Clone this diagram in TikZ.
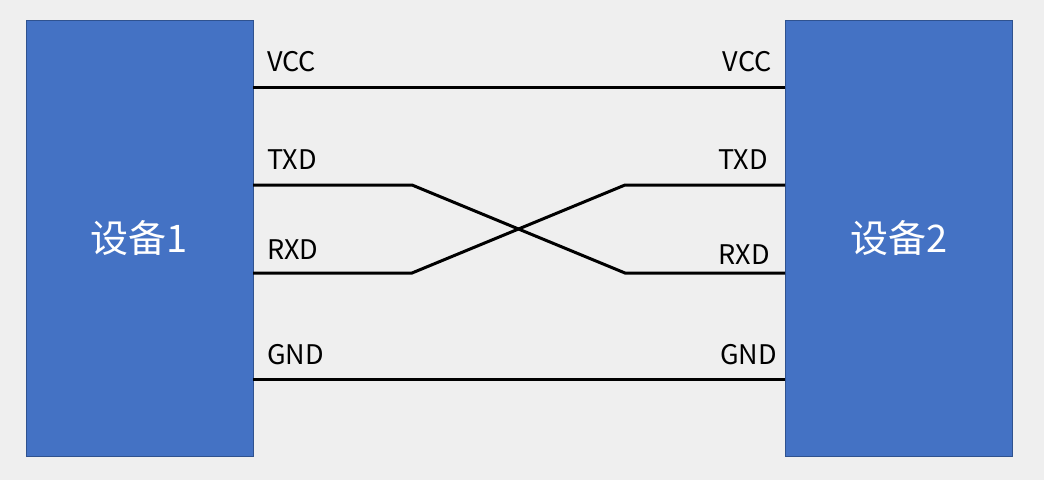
\documentclass[tikz,border=0pt]{standalone}
\usepackage{fontspec}
\setmainfont{Noto Sans CJK SC}
\begin{document}
\begin{tikzpicture}[x=1pt,y=-1pt,
  dev/.style={fill=boxblue,draw=boxedge,line width=1pt,minimum width=227pt,minimum height=436pt,text=white,font=\fontsize{38}{42}\selectfont,inner sep=0},
  lbl/.style={font=\fontsize{27}{30}\selectfont,inner sep=0},
  wire/.style={line width=3pt,black}]
\definecolor{boxblue}{HTML}{4472C4}
\definecolor{boxedge}{HTML}{2F528F}
\fill[fill={rgb,255:red,239;green,239;blue,239}] (0,0) rectangle (1044,480);
\useasboundingbox (0,0) rectangle (1044,480);
\node[dev] (d1) at (139.5,238) {设备1};
\node[dev] (d2) at (899,238) {设备2};
\coordinate (lv) at (253,87); \coordinate (rv) at (785,87);
\coordinate (lt) at (253,185); \coordinate (rt) at (785,185);
\coordinate (lr) at (253,273); \coordinate (rr) at (785,273);
\coordinate (lg) at (253,379); \coordinate (rg) at (785,379);
\coordinate (a1) at (412,185); \coordinate (a2) at (412,273);
\coordinate (b1) at (625,185); \coordinate (b2) at (625,273);
\draw[wire] (lv) -- (rv);
\draw[wire] (lg) -- (rg);
\draw[wire] (lt) -- (a1) -- (b2) -- (rr);
\draw[wire] (lr) -- (a2) -- (b1) -- (rt);
\node[lbl,anchor=west] (l1) at (267,62) {VCC};
\node[lbl,anchor=west] (l2) at (267,160) {TXD};
\node[lbl,anchor=west] (l3) at (267,250) {RXD};
\node[lbl,anchor=west] (l4) at (267,355) {GND};
\node[lbl,anchor=east] (r1) at (772,62) {VCC};
\node[lbl,anchor=east] (r2) at (768,160) {TXD};
\node[lbl,anchor=east] (r3) at (770,255) {RXD};
\node[lbl,anchor=east] (r4) at (777,355) {GND};
\end{tikzpicture}
\end{document}
